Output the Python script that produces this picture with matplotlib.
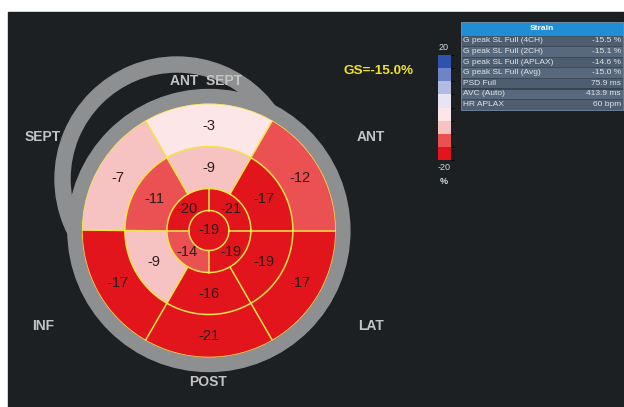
import numpy as np
import matplotlib
matplotlib.use('Agg')
import matplotlib.pyplot as plt
from matplotlib.patches import Wedge, Circle, Rectangle
from matplotlib.colors import ListedColormap, BoundaryNorm
from matplotlib.colorbar import ColorbarBase

plt.rcParams['font.family'] = ['Liberation Sans', 'DejaVu Sans']

# segment strain values (%), angles counter-clockwise from 3 o'clock
basal_angles = [30, 90, 150, 210, 270, 330]
basal_vals = [-12, -3, -7, -17, -21, -17]
mid_angles = [30, 90, 150, 210, 270, 330]
mid_vals = [-17, -9, -11, -9, -16, -19]
apical_angles = [45, 135, 225, 315]
apical_vals = [-21, -20, -14, -19]
apex_val = -19
gs_text = 'GS=-15.0%'

wall_labels = ['ANT  SEPT', 'ANT', 'LAT', 'POST', 'INF', 'SEPT']

table_names = ['G peak SL Full (4CH)', 'G peak SL Full (2CH)', 'G peak SL Full (APLAX)',
               'G peak SL Full (Avg)', 'PSD Full', 'AVC (Auto)', 'HR APLAX']
table_vals = ['-15.5 %', '-15.1 %', '-14.6 %', '-15.0 %', '75.9 ms', '413.9 ms', '60 bpm']

levels = [-20, -15, -10, -5, 0, 5, 10, 15, 20]
colors = ['#e2151d', '#eb5153', '#f6c2c2', '#fde6e8', '#e6e6f3', '#b4bbe0', '#6f83c8', '#2f52ad']
cmap = ListedColormap(colors)
norm = BoundaryNorm(levels, cmap.N)

W, H = 624, 407
fig = plt.figure(figsize=(W / 100, H / 100), dpi=100)
fig.patch.set_facecolor('white')

# background axes in pixel units
bg = fig.add_axes([0, 0, 1, 1])
bg.set_xlim(0, W)
bg.set_ylim(H, 0)
bg.axis('off')
bg.add_patch(Rectangle((8, 12), W - 8, H - 12, color='#1d2023'))

cx, cy = 208.9, 230.5
R = 127
gray = '#8d8f91'
bg.add_patch(Wedge((177, 179), 122, 0, 360, width=15, color=gray))
bg.add_patch(Circle((cx, cy), 141, color=gray))

# wall labels
lab_kw = dict(color='#c4c4c4', fontsize=10, fontweight='bold', ha='center', va='center')
bg.text(206, 81, wall_labels[0], **lab_kw)
bg.text(371, 137, wall_labels[1], **lab_kw)
bg.text(371, 326, wall_labels[2], **lab_kw)
bg.text(208, 382, wall_labels[3], **lab_kw)
bg.text(43, 326, wall_labels[4], **lab_kw)
bg.text(43, 137, wall_labels[5], **lab_kw)

bg.text(378, 71, gs_text, color='#f2e41e', fontsize=9.7, fontweight='bold', ha='center', va='center')

# strain table
tx0, tx1 = 461, 623
bg.add_patch(Rectangle((tx0, 22), tx1 - tx0, 13.5, facecolor='#1f8ed5', edgecolor='#6a8fb0', lw=0.6))
bg.text((tx0 + tx1) / 2, 29, 'Strain', color='white', fontsize=6, fontweight='bold', ha='center', va='center')
rh = 10.6
for i, (name, val) in enumerate(zip(table_names, table_vals)):
    y0 = 35.5 + i * rh
    fc = '#4e5d70' if i % 2 == 0 else '#58687d'
    bg.add_patch(Rectangle((tx0, y0), tx1 - tx0, rh, facecolor=fc, edgecolor='#3a4656', lw=0.5))
    bg.text(tx0 + 2, y0 + rh / 2, name, color='#dde3ea', fontsize=6, ha='left', va='center')
    bg.text(tx1 - 2, y0 + rh / 2, val, color='#dde3ea', fontsize=6, ha='right', va='center')
bg.add_patch(Rectangle((tx0, 22), tx1 - tx0, 13.5 + 7 * rh, facecolor='none', edgecolor='#7088a0', lw=0.6))

# colorbar
cax = fig.add_axes([437.7 / W, (H - 160) / H, 13.3 / W, 105 / H])
cb = ColorbarBase(cax, cmap=cmap, norm=norm, orientation='vertical')
cb.set_ticks([])
cb.outline.set_visible(False)
bg.text(444, 48, '20', color='#d0e0d8', fontsize=6.5, ha='center', va='center')
bg.text(444, 168, '-20', color='#d0e0d8', fontsize=6.5, ha='center', va='center')
bg.text(444, 181, '%', color='#d0e0d8', fontsize=6.5, fontweight='bold', ha='center', va='center')

# bull's eye in a polar axes
ax = fig.add_axes([(cx - R) / W, (H - cy - R) / H, 2 * R / W, 2 * R / H], projection='polar')
ax.set_ylim(0, R)
ax.axis('off')

r_apex, r_apical, r_mid = 20, 42, 84
th = np.deg2rad
ax.bar(th(basal_angles), R - r_mid, width=th(60), bottom=r_mid,
       color=cmap(norm(basal_vals)), linewidth=0)
ax.bar(th(mid_angles), r_mid - r_apical, width=th(60), bottom=r_apical,
       color=cmap(norm(mid_vals)), linewidth=0)
ax.bar(th(apical_angles), r_apical - r_apex, width=th(90), bottom=r_apex,
       color=cmap(norm(apical_vals)), linewidth=0)
ax.bar([0], r_apex, width=2 * np.pi, bottom=0, color=cmap(norm(apex_val)), linewidth=0)

yel = '#f3e448'
circ = np.linspace(0, 2 * np.pi, 400)
for rr in [r_apex, r_apical, r_mid, R]:
    ax.plot(circ, np.full_like(circ, rr), color=yel, lw=1.1)
for a in range(0, 360, 60):
    ax.plot([th(a), th(a)], [r_apical, R], color=yel, lw=1.1)
for a in range(0, 360, 90):
    ax.plot([th(a), th(a)], [r_apex, r_apical], color=yel, lw=1.1)

txt_kw = dict(color='#2e1c1c', fontsize=10.5, ha='center', va='center')
for a, v in zip(basal_angles, basal_vals):
    ax.text(th(a), 105, str(v), **txt_kw)
for a, v in zip(mid_angles, mid_vals):
    ax.text(th(a), 63, str(v), **txt_kw)
for a, v in zip(apical_angles, apical_vals):
    ax.text(th(a), 31, str(v), **txt_kw)
ax.text(0, 0, str(apex_val), **txt_kw)

fig.savefig('out.png', dpi=100, facecolor=fig.get_facecolor())
